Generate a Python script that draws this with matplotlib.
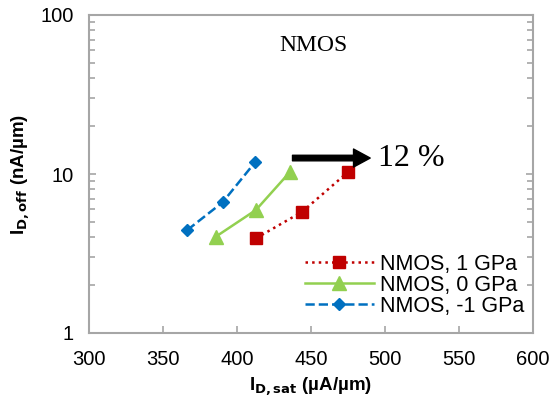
import numpy as np
import matplotlib
matplotlib.use('Agg')
import matplotlib.pyplot as plt
from matplotlib.ticker import LogLocator, NullFormatter, FixedLocator

plt.rcParams['font.family'] = ['Liberation Sans', 'DejaVu Sans']

# Data
isat_p1 = [412.8, 444.1, 474.8]
ioff_p1 = [3.94, 5.79, 10.25]
isat_0 = [385.6, 412.8, 435.8]
ioff_0 = [4.03, 5.94, 10.3]
isat_m1 = [366.4, 390.3, 412.2]
ioff_m1 = [4.44, 6.64, 11.85]

fig = plt.figure(figsize=(5.52, 4.05), dpi=100)
ax = fig.add_axes([89/552, 1-333/405, 444/552, 318/405])

ax.plot(isat_p1, ioff_p1, linestyle=':', color='#c00000', marker='s', markersize=9,
        linewidth=1.8, label='NMOS, 1 GPa')
ax.plot(isat_0, ioff_0, linestyle='-', color='#92d050', marker='^', markersize=10,
        linewidth=1.8, label='NMOS, 0 GPa')
ax.plot(isat_m1, ioff_m1, linestyle='--', color='#0070c0', marker='D', markersize=6.5,
        linewidth=1.8, label='NMOS, -1 GPa')

ax.set_yscale('log')
ax.set_xlim(300, 600)
ax.set_ylim(1, 100)
ax.set_xticks(np.arange(300, 601, 50))
ax.yaxis.set_major_locator(FixedLocator([1, 10, 100]))
ax.set_yticklabels(['1', '10', '100'])
ax.yaxis.set_minor_locator(LogLocator(base=10, subs=np.arange(2, 10)))
ax.yaxis.set_minor_formatter(NullFormatter())

for s in ax.spines.values():
    s.set_color('#a6a6a6')
    s.set_linewidth(1.5)
ax.tick_params(axis='both', which='both', direction='in', colors='#a6a6a6',
               labelcolor='black', labelsize=14.5, width=1.2)
ax.tick_params(axis='y', which='both', right=True, pad=11)
ax.tick_params(axis='y', which='major', length=5)
ax.tick_params(axis='y', which='minor', length=4)
ax.tick_params(axis='x', which='major', length=5, pad=12)

ax.set_xlabel(r'I$_{\mathbf{D,sat}}$ (µA/µm)', fontsize=13.5, fontweight='bold', labelpad=5)
ax.set_ylabel(r'I$_{\mathbf{D,off}}$ (nA/µm)', fontsize=13.5, fontweight='bold', labelpad=6)

ax.text(0.505, 0.905, 'NMOS', transform=ax.transAxes, ha='center', va='center',
        fontsize=17, family='Liberation Serif')

ax.annotate('', xy=(490, 12.6), xytext=(437.5, 12.6),
            arrowprops=dict(facecolor='black', edgecolor='black', width=4,
                            headwidth=13, headlength=12, shrink=0))
ax.text(495, 12.6, '12 %', ha='left', va='center', fontsize=23, family='Liberation Serif')

leg = ax.legend(loc='lower right', bbox_to_anchor=(1.01, 0.01), frameon=False, fontsize=15.5,
                handlelength=3.2, handletextpad=0.3, labelspacing=0.0,
                borderaxespad=0.3, borderpad=0.3)

fig.savefig('out.png', dpi=100)
